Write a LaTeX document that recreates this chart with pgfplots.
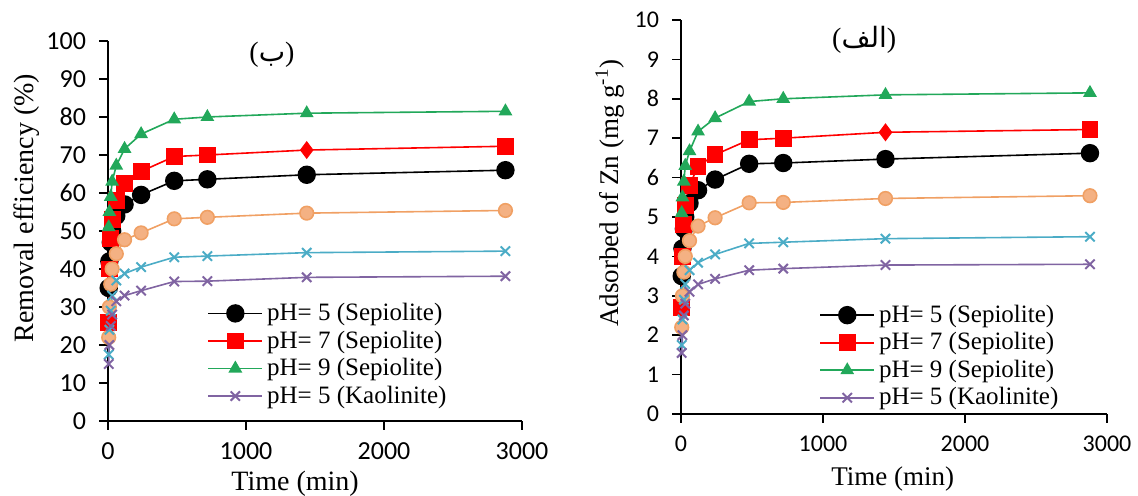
\documentclass[border=0pt]{standalone}
\usepackage{fontspec}
\setmainfont{Liberation Serif}
\newfontfamily\carlito{Carlito}
\newfontfamily\arabicfont[Script=Arabic]{DejaVu Sans}
\TeXXeTstate=1
\usepackage{pgfplots}
\pgfplotsset{compat=1.18}

\definecolor{cred}{RGB}{255,0,0}
\definecolor{cgreen}{RGB}{34,168,90}
\definecolor{corange}{RGB}{240,160,100}
\definecolor{corangefill}{RGB}{244,177,131}
\definecolor{cblue}{RGB}{75,172,198}
\definecolor{cpurple}{RGB}{128,100,162}

\pgfplotsset{
  kin/.style={
    scale only axis,
    axis lines=left,
    axis line style={-, line width=0.8pt},
    tick align=outside,
    major tick length=4.5pt,
    every tick/.style={black, line width=0.8pt},
    xmin=0, xmax=3000,
    xtick={0,1000,2000,3000},
    ymin=0,
    clip=false,
    /pgf/number format/assume math mode=true,
    /pgf/number format/set thousands separator={},
    yticklabel style={xshift=-3pt},
    xticklabel style={yshift=-3pt},
    legend cell align=left,
    legend style={draw=none, fill=none, anchor=north west,
      font=\fontsize{12.5}{13.5}\selectfont, row sep=-0.4pt},
    legend image code/.code={
      \draw[mark=none] (0pt,0pt) -- (27pt,0pt);
      \draw[only marks] plot coordinates {(13.5pt,0pt)};
    },
  },
  sblack/.style={black, line width=0.8pt, mark=*, mark size=4.2pt, mark options={fill=black}},
  sred/.style={cred, line width=0.8pt, mark=square*, mark size=3.8pt, mark options={fill=cred},
    mark indices={1,2,3,4,5,6,7,8,9,11}},
  sredd/.style={cred, only marks, mark=diamond*, mark size=4.2pt, mark options={fill=cred}, forget plot},
  sgreen/.style={cgreen, line width=0.8pt, mark=triangle*, mark size=3.2pt, mark options={fill=cgreen}},
  sorange/.style={corange, line width=0.8pt, mark=*, mark size=3.4pt, mark options={fill=corangefill, draw=corange}, forget plot},
  sblue/.style={cblue, line width=0.8pt, mark=x, mark size=3.3pt, mark options={line width=1pt}, forget plot},
  spurple/.style={cpurple, line width=0.8pt, mark=x, mark size=3.3pt, mark options={line width=1pt}},
}

\begin{document}
\begin{tikzpicture}
\useasboundingbox (0,0) rectangle (569pt,248pt);

% (ب) removal efficiency
\begin{axis}[kin,
  at={(54pt,37.5pt)}, anchor=south west,
  width=207pt, height=190pt,
  ymax=100, ytick={0,10,...,100},
  tick label style={font=\carlito\fontsize{13}{14}\selectfont},
  xlabel={Time (min)}, ylabel={Removal efficiency (\%)},
  label style={font=\fontsize{14}{15}\selectfont},
  xlabel style={at={(axis description cs:0.452,-0.166)}, anchor=center},
  ylabel style={at={(axis description cs:-0.196,0.56)}, anchor=center},
  legend style={at={(axis description cs:0.225,0.332)}},
]
\addplot[sblack] coordinates {(5,35) (10,42) (20,47) (30,50) (60,54) (120,57) (240,59.5) (480,63.2) (720,63.6) (1440,64.8) (2880,66)};
\addlegendentry{pH= 5 (Sepiolite)}
\addplot[sred] coordinates {(5,26) (10,40) (20,48) (30,53) (60,58) (120,62.5) (240,65.7) (480,69.6) (720,70) (1440,71.3) (2880,72.3)};
\addlegendentry{pH= 7 (Sepiolite)}
\addplot[sredd] coordinates {(1440,71.3)};
\addplot[sgreen] coordinates {(5,51) (10,55) (20,59) (30,63) (60,67.2) (120,71.6) (240,75.5) (480,79.4) (720,80) (1440,81) (2880,81.5)};
\addlegendentry{pH= 9 (Sepiolite)}
\addplot[sorange] coordinates {(5,22) (10,30) (20,36) (30,40) (60,44) (120,47.7) (240,49.5) (480,53.2) (720,53.6) (1440,54.7) (2880,55.4)};
\addplot[sblue] coordinates {(5,17.5) (10,24) (20,29) (30,33) (60,37) (120,38.8) (240,40.5) (480,43.1) (720,43.4) (1440,44.3) (2880,44.7)};
\addplot[spurple] coordinates {(5,15) (10,20) (20,25) (30,28) (60,31.5) (120,33) (240,34.3) (480,36.7) (720,36.8) (1440,37.8) (2880,38.1)};
\addlegendentry{pH= 5 (Kaolinite)}
\node[font=\fontsize{14}{15}\selectfont] at (axis description cs:0.396,0.963) {({\arabicfont\beginR ب\endR})};
\end{axis}

% (الف) adsorbed Zn
\begin{axis}[kin,
  at={(340.5pt,41pt)}, anchor=south west,
  width=213pt, height=197pt,
  ymax=10, ytick={0,1,...,10},
  tick label style={font=\carlito\fontsize{12}{13}\selectfont},
  xlabel={Time (min)}, ylabel={Adsorbed of Zn (mg g\textsuperscript{-1})},
  label style={font=\fontsize{13.5}{14.5}\selectfont},
  xlabel style={at={(axis description cs:0.497,-0.165)}, anchor=center},
  ylabel style={at={(axis description cs:-0.167,0.561)}, anchor=center},
  legend style={at={(axis description cs:0.31,0.298)}},
]
\addplot[sblack] coordinates {(5,3.5) (10,4.2) (20,4.7) (30,5.0) (60,5.35) (120,5.68) (240,5.95) (480,6.35) (720,6.37) (1440,6.47) (2880,6.62)};
\addlegendentry{pH= 5 (Sepiolite)}
\addplot[sred] coordinates {(5,2.7) (10,4.0) (20,4.8) (30,5.3) (60,5.8) (120,6.29) (240,6.58) (480,6.96) (720,7.0) (1440,7.15) (2880,7.22)};
\addlegendentry{pH= 7 (Sepiolite)}
\addplot[sredd] coordinates {(1440,7.15)};
\addplot[sgreen] coordinates {(5,5.1) (10,5.5) (20,5.9) (30,6.3) (60,6.67) (120,7.17) (240,7.51) (480,7.93) (720,8.0) (1440,8.1) (2880,8.15)};
\addlegendentry{pH= 9 (Sepiolite)}
\addplot[sorange] coordinates {(5,2.2) (10,3.0) (20,3.6) (30,4.0) (60,4.4) (120,4.77) (240,4.98) (480,5.36) (720,5.37) (1440,5.47) (2880,5.54)};
\addplot[sblue] coordinates {(5,1.75) (10,2.4) (20,2.9) (30,3.3) (60,3.65) (120,3.84) (240,4.05) (480,4.33) (720,4.36) (1440,4.45) (2880,4.5)};
\addplot[spurple] coordinates {(5,1.55) (10,2.0) (20,2.5) (30,2.8) (60,3.1) (120,3.29) (240,3.43) (480,3.65) (720,3.69) (1440,3.78) (2880,3.8)};
\addlegendentry{pH= 5 (Kaolinite)}
\node[font=\fontsize{14}{15}\selectfont] at (axis description cs:0.43,0.949) {({\arabicfont\beginR الف\endR})};
\end{axis}
\end{tikzpicture}
\end{document}
